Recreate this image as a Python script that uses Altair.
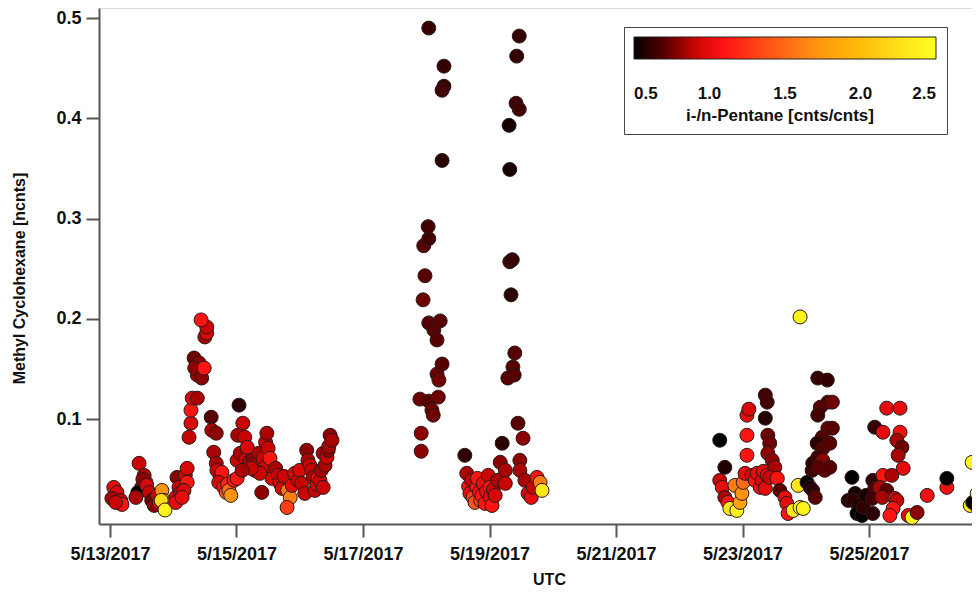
import altair as alt
import pandas as pd

# (days after 2017-05-13 00:00 UTC, Methyl Cyclohexane [ncnts], i-/n-Pentane ratio)
may13_16 = [
    (0.06,0.032,1.0),(0.11,0.027,0.95),(0.03,0.021,0.85),(0.17,0.019,0.9),(0.19,0.015,1.1),(0.09,0.017,0.9),
    (0.46,0.056,0.9),(0.54,0.044,0.85),(0.57,0.037,0.9),(0.50,0.032,0.85),(0.52,0.040,0.8),
    (0.44,0.027,0.5),(0.41,0.022,0.85),(0.58,0.034,0.95),
    (0.62,0.027,0.9),(0.66,0.019,0.75),(0.70,0.014,0.8),(0.75,0.024,0.9),(0.78,0.017,1.0),
    (0.82,0.029,1.7),(0.85,0.019,1.7),(0.81,0.019,2.2),(0.87,0.0095,2.4),
    (1.06,0.042,0.8),(1.09,0.032,0.9),(1.04,0.022,0.95),(1.04,0.017,1.0),(1.12,0.027,0.9),(1.19,0.044,0.9),
    (1.22,0.051,0.95),(1.22,0.037,1.1),(1.17,0.029,0.95),(1.14,0.022,1.0),
    (1.25,0.082,0.9),(1.28,0.096,0.95),(1.28,0.109,1.1),(1.30,0.121,0.95),(1.38,0.121,0.85),(1.33,0.161,0.75),
    (1.41,0.156,0.8),(1.38,0.144,0.85),(1.34,0.151,0.8),(1.45,0.141,0.8),(1.49,0.151,1.1),
    (1.50,0.182,0.85),(1.53,0.186,0.95),(1.53,0.192,0.9),(1.44,0.199,1.1),
    (1.60,0.102,0.7),(1.61,0.089,0.85),(1.68,0.086,0.8),(1.64,0.067,0.85),(1.68,0.056,0.85),(1.69,0.049,0.9),
    (1.74,0.043,0.9),(1.77,0.047,1.1),(1.72,0.037,0.95),(1.80,0.032,1.1),(1.84,0.027,1.4),(1.86,0.035,1.2),
    (1.88,0.029,1.5),(1.91,0.024,1.7),(1.96,0.039,1.1),(2.01,0.041,1.1),
    (2.04,0.114,0.6),(2.10,0.096,0.9),(2.02,0.084,0.85),(2.13,0.082,0.9),(2.01,0.059,0.9),(2.06,0.066,0.85),
    (2.18,0.069,0.85),(2.15,0.060,0.9),(2.21,0.058,0.85),(2.26,0.062,0.8),(2.29,0.049,0.9),(2.32,0.056,0.85),
    (2.35,0.066,0.85),(2.42,0.061,0.9),(2.45,0.052,0.9),(2.46,0.077,0.9),(2.48,0.086,0.85),(2.50,0.071,0.9),
    (2.53,0.061,1.1),(2.40,0.027,0.8),(2.56,0.041,0.95),(2.37,0.046,0.9),(2.17,0.072,0.95),(2.23,0.051,0.9),
    (2.09,0.049,0.85),
    (2.62,0.051,0.85),(2.66,0.044,0.9),(2.69,0.036,0.95),(2.72,0.031,0.95),(2.75,0.043,0.9),(2.81,0.029,1.6),
    (2.85,0.022,1.6),(2.80,0.012,1.3),(2.88,0.034,1.0),
    (2.92,0.046,0.95),(2.97,0.039,0.9),(3.00,0.049,0.95),(3.03,0.036,0.9),(3.08,0.026,0.9),(3.11,0.069,0.8),
    (3.13,0.059,0.85),(3.16,0.054,0.9),(3.19,0.049,0.9),(3.21,0.042,0.85),(3.24,0.029,0.9),(3.27,0.035,0.95),
    (3.29,0.041,1.1),(3.32,0.039,0.9),(3.34,0.049,0.85),(3.37,0.066,0.85),(3.37,0.032,0.9),(3.40,0.054,0.85),
    (3.43,0.062,0.9),(3.45,0.069,0.8),(3.46,0.073,0.85),(3.48,0.084,0.8),(3.51,0.079,0.85),
]

may18_19 = [
    (4.92,0.068,0.8),(4.92,0.086,0.8),(4.90,0.120,0.75),(4.95,0.219,0.75),(4.98,0.243,0.7),(4.96,0.273,0.7),
    (5.04,0.280,0.65),(5.03,0.292,0.65),(5.04,0.196,0.7),(5.04,0.118,0.7),(5.09,0.109,0.75),(5.11,0.104,0.75),
    (5.12,0.189,0.7),(5.17,0.179,0.7),(5.17,0.145,0.75),(5.20,0.139,0.75),(5.19,0.122,0.75),(5.22,0.198,0.7),
    (5.25,0.155,0.7),(5.25,0.358,0.6),(5.04,0.490,0.62),(5.28,0.452,0.62),(5.28,0.432,0.62),(5.25,0.428,0.65),
    (5.61,0.064,0.6),(5.64,0.046,0.85),(5.67,0.033,1.1),(5.69,0.026,1.0),(5.72,0.039,0.9),(5.74,0.022,1.3),
    (5.77,0.017,1.4),(5.80,0.032,1.1),(5.81,0.041,1.1),(5.84,0.027,1.05),(5.86,0.019,1.3),(5.88,0.024,1.1),
    (5.90,0.036,1.0),(5.93,0.016,1.1),(5.95,0.028,1.0),(5.98,0.044,0.9),
    (6.01,0.032,1.1),(6.01,0.022,1.0),(6.04,0.014,1.1),(6.06,0.030,0.9),(6.09,0.024,0.95),(6.13,0.039,0.85),
    (6.17,0.057,0.8),(6.20,0.076,0.6),(6.25,0.049,0.85),(6.25,0.036,0.9),
    (6.29,0.141,0.7),(6.31,0.393,0.55),(6.32,0.349,0.55),(6.32,0.257,0.65),(6.36,0.259,0.62),(6.34,0.224,0.6),
    (6.37,0.152,0.7),(6.39,0.144,0.7),(6.40,0.166,0.7),(6.42,0.415,0.65),(6.43,0.462,0.62),(6.47,0.482,0.62),
    (6.47,0.409,0.65),(6.45,0.096,0.7),(6.53,0.081,0.8),(6.48,0.059,0.8),(6.48,0.049,0.85),(6.56,0.039,0.85),
    (6.61,0.026,0.95),(6.66,0.022,1.0),(6.69,0.032,0.9),(6.75,0.042,1.1),(6.80,0.037,1.6),(6.83,0.029,2.3),
]

may22_24 = [
    (9.64,0.079,0.5),(9.64,0.039,0.9),(9.68,0.032,1.0),(9.72,0.052,0.58),(9.72,0.022,0.85),(9.77,0.017,1.1),
    (9.80,0.011,2.3),(9.88,0.034,1.6),(9.91,0.009,2.4),(9.96,0.017,1.8),(9.99,0.026,1.7),(10.01,0.037,1.5),
    (10.04,0.046,1.0),(10.07,0.104,1.0),(10.10,0.110,0.95),(10.07,0.084,1.1),(10.07,0.064,1.1),(10.15,0.044,0.95),
    (10.20,0.039,1.1),(10.23,0.046,1.0),(10.28,0.032,1.05),(10.31,0.039,0.95),(10.33,0.048,1.0),(10.36,0.031,1.0),
    (10.36,0.124,0.65),(10.39,0.117,0.65),
    (10.36,0.101,0.58),(10.39,0.044,1.0),(10.40,0.084,0.75),(10.43,0.076,0.75),(10.40,0.066,0.8),(10.47,0.059,0.8),
    (10.51,0.052,0.85),(10.43,0.042,0.9),(10.55,0.041,1.1),(10.59,0.029,0.7),(10.67,0.022,1.0),(10.70,0.016,1.0),
    (10.72,0.006,1.1),(10.80,0.009,2.3),(10.88,0.034,2.3),(10.91,0.012,2.4),(10.96,0.011,2.4),(10.91,0.202,2.4),
    (11.02,0.037,0.5),(11.07,0.032,0.55),(11.11,0.029,0.6),(11.15,0.022,0.7),(11.10,0.049,0.65),(11.11,0.056,0.6),
    (11.19,0.141,0.62),(11.34,0.139,0.62),(11.35,0.117,0.65),(11.23,0.112,0.7),(11.19,0.104,0.65),(11.35,0.091,0.75),
    (11.26,0.082,0.7),(11.18,0.076,0.6),(11.27,0.071,0.7),(11.19,0.062,0.65),(11.27,0.059,0.8),(11.30,0.049,0.75),
    (11.19,0.052,0.7),
]

may24_27 = [
    (11.42,0.117,0.75),(11.42,0.091,0.7),(11.38,0.076,0.7),(11.38,0.052,0.7),(11.67,0.019,0.6),(11.73,0.042,0.5),
    (11.78,0.026,0.55),(11.75,0.019,0.6),(11.83,0.014,0.58),(11.81,0.006,0.5),(11.89,0.004,0.5),(11.91,0.012,0.6),
    (11.95,0.024,0.55),(12.06,0.039,0.6),(12.09,0.031,0.7),(12.05,0.021,0.65),(12.06,0.006,0.6),(12.09,0.092,0.62),
    (12.22,0.087,1.0),(12.28,0.111,1.0),(12.49,0.111,1.0),(12.49,0.087,1.05),(12.44,0.079,0.85),(12.52,0.072,0.75),
    (12.46,0.064,0.85),(12.54,0.051,1.0),(12.22,0.044,1.1),(12.36,0.044,0.85),(12.17,0.032,0.85),(12.28,0.029,0.7),
    (12.21,0.022,0.85),(12.41,0.021,1.0),(12.44,0.019,0.9),(12.38,0.011,1.1),(12.33,0.004,1.1),(12.62,0.004,1.0),
    (12.68,0.002,2.4),(12.76,0.007,0.8),(12.92,0.024,1.05),(13.23,0.032,1.05),(13.23,0.041,0.5),(13.63,0.057,2.4),
    (13.60,0.014,2.3),(13.64,0.017,0.5),(13.71,0.026,2.4),(13.72,0.012,0.5),
]

x_tick_days = [13, 15, 17, 19, 21, 23, 25]
y_ticks = [0.1, 0.2, 0.3, 0.4, 0.5]
legend_ticks = [0.5, 1.0, 1.5, 2.0, 2.5]
color_stops = [0.5, 0.75, 0.9, 1.1, 1.5, 1.75, 2.0, 2.25, 2.5]
color_range = ["#000000", "#6e0000", "#c80404", "#ff1414", "#ff6a18", "#ff9c0c",
               "#ffbc0c", "#ffe016", "#ffff22"]

rows = may13_16 + may18_19 + may22_24 + may24_27
base = pd.Timestamp("2017-05-13T00:00:00Z")
df = pd.DataFrame(rows, columns=["day", "mch", "ratio"])
df["t"] = (base + pd.to_timedelta(df["day"], unit="D")).dt.strftime("%Y-%m-%dT%H:%M:%SZ")

FONT = "Liberation Sans"

chart = alt.Chart(df).mark_circle(
    size=195, opacity=1, stroke="#2a1a1a", strokeWidth=1
).encode(
    x=alt.X("t:T",
            scale=alt.Scale(type="utc", nice=False,
                            domain=[alt.DateTime(year=2017, month=5, date=12, hours=19, minutes=50, utc=True),
                                    alt.DateTime(year=2017, month=5, date=26, hours=15, minutes=4, utc=True)]),
            axis=alt.Axis(values=[alt.DateTime(year=2017, month=5, date=d, utc=True) for d in x_tick_days],
                          labelExpr="utcFormat(datum.value, '%-m/%-d/%Y')", title="UTC",
                          labelFont=FONT, labelFontSize=18, labelFontWeight="bold", labelColor="#111",
                          titleFont=FONT, titleFontSize=16, titleFontWeight="bold", titleColor="#111",
                          titleX=450,
                          tickSize=13, tickWidth=2, tickColor="#555", domainColor="#555", domainWidth=2,
                          labelPadding=8, titlePadding=8, grid=False, labelOverlap=False, labelFlush=False)),
    y=alt.Y("mch:Q",
            scale=alt.Scale(domain=[-0.0045, 0.51], nice=False, zero=False),
            axis=alt.Axis(values=y_ticks, format=".1f", title="Methyl Cyclohexane [ncnts]",
                          labelFont=FONT, labelFontSize=18, labelFontWeight="bold", labelColor="#111",
                          titleFont=FONT, titleFontSize=16, titleFontWeight="bold", titleColor="#111",
                          titleAngle=270, titleX=-80, titleY=270, titleBaseline="middle",
                          tickSize=13, tickWidth=2, tickColor="#555", domainColor="#555", domainWidth=2,
                          labelPadding=5, grid=False, labelFlush=False)),
    color=alt.Color("ratio:Q",
                    scale=alt.Scale(domain=color_stops, range=color_range, clamp=True, interpolate="rgb"),
                    legend=alt.Legend(orient="none", legendX=525, legendY=19, direction="horizontal",
                                      gradientLength=302, gradientThickness=22,
                                      gradientStrokeColor="#222", gradientStrokeWidth=1,
                                      values=legend_ticks, format=".1f",
                                      title="i-/n-Pentane [cnts/cnts]", titleOrient="bottom",
                                      titleAnchor="middle", titleFont=FONT, titleFontSize=17,
                                      titleFontWeight="bold", titleColor="#111", titlePadding=6,
                                      titleLimit=400,
                                      labelFont=FONT, labelFontSize=17, labelFontWeight="bold",
                                      labelColor="#111", labelOffset=27, labelAlign="center",
                                      labelOverlap=False, padding=10, strokeColor="#444",
                                      fillColor="white")),
).properties(
    width=873, height=516,
    autosize=alt.AutoSizeParams(type="none"),
    padding={"left": 91, "top": 0, "right": 0, "bottom": 64},
).configure_view(strokeWidth=0).configure(background="white")

chart.save("out.html", embed_options={"renderer": "svg", "actions": False})
